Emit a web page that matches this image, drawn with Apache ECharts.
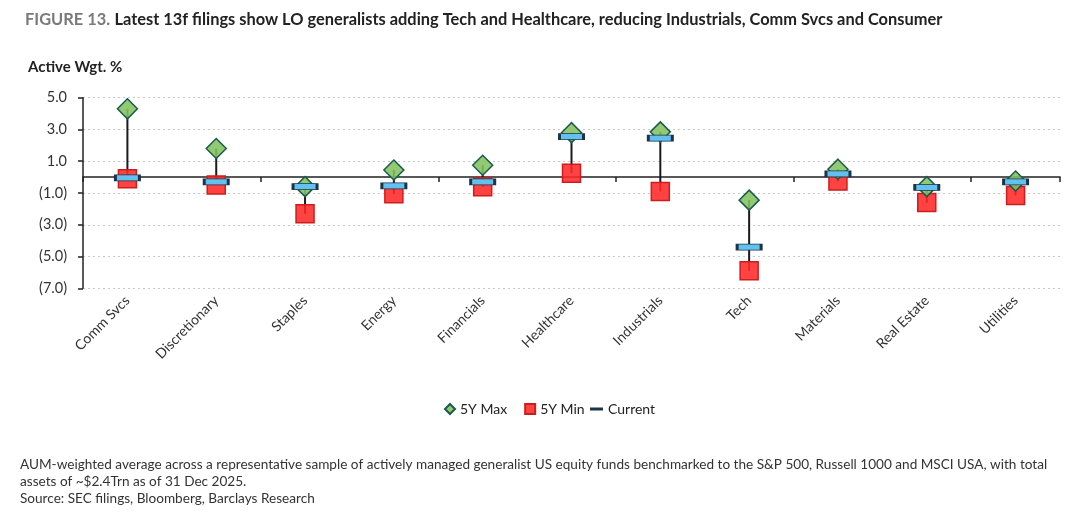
<!DOCTYPE html>
<html>
<head>
<meta charset="utf-8">
<script src="https://cdn.jsdelivr.net/npm/echarts@6/dist/echarts.min.js"></script>
<style>
  html, body { margin: 0; padding: 0; background: #fff; }
  #chart { width: 1080px; height: 520px; }
</style>
</head>
<body>
<div id="chart"></div>
<script>
const categories = ['Comm Svcs', 'Discretionary', 'Staples', 'Energy', 'Financials', 'Healthcare', 'Industrials', 'Tech', 'Materials', 'Real Estate', 'Utilities'];
const maxVals = [4.3, 1.8, -0.6, 0.45, 0.75, 2.8, 2.85, -1.45, 0.5, -0.6, -0.25];
const minVals = [-0.1, -0.5, -2.3, -1.05, -0.6, 0.25, -0.9, -5.9, -0.25, -1.6, -1.15];
const currentVals = [-0.05, -0.3, -0.6, -0.55, -0.3, 2.55, 2.45, -4.4, 0.2, -0.65, -0.3];
const yMin = -7, yMax = 5, yInterval = 2;

const FONT = 'Lato';
const chart = echarts.init(document.getElementById('chart'), null, { renderer: 'canvas' });

const fmt = v => v < 0 ? '(' + Math.abs(v).toFixed(1) + ')' : v.toFixed(1);

const option = {
  backgroundColor: '#fff',
  textStyle: { fontFamily: FONT },
  animation: false,
  title: {
    left: 20, top: 6,
    text: '{a|FIGURE 13.} {b|Latest 13f filings show LO generalists adding Tech and Healthcare, reducing Industrials, Comm Svcs and Consumer}',
    textStyle: {
      rich: {
        a: { fontFamily: FONT, fontWeight: 'bold', fontSize: 16.4, color: '#7a7a7a' },
        b: { fontFamily: FONT, fontWeight: 'bold', fontSize: 16.4, color: '#222' }
      }
    }
  },
  graphic: [
    { type: 'text', left: 28, top: 60, style: { text: 'Active Wgt. %', font: 'bold 15px ' + FONT, fill: '#222' } },
    { type: 'text', left: 20, top: 458, style: { text: 'AUM-weighted average across a representative sample of actively managed generalist US equity funds benchmarked to the S&P 500, Russell 1000 and MSCI USA, with total', font: '13.6px ' + FONT, fill: '#333' } },
    { type: 'text', left: 20, top: 475, style: { text: 'assets of ~$2.4Trn as of 31 Dec 2025.', font: '13.6px ' + FONT, fill: '#333' } },
    { type: 'text', left: 20, top: 492, style: { text: 'Source: SEC filings, Bloomberg, Barclays Research', font: '13.6px ' + FONT, fill: '#333' } }
  ],
  legend: [
    {
      left: 439, top: 397,
      itemWidth: 10, itemHeight: 10, itemGap: 17,
      textStyle: { fontFamily: FONT, fontSize: 14, color: '#222' },
      data: [
        { name: '5Y Max', icon: 'diamond' },
        { name: '5Y Min', icon: 'rect' }
      ]
    },
    {
      left: 585, top: 397,
      itemWidth: 13, itemHeight: 3,
      textStyle: { fontFamily: FONT, fontSize: 14, color: '#222' },
      data: [{ name: 'Current', icon: 'rect', itemStyle: { color: '#1d3347', borderWidth: 0 } }]
    }
  ],
  grid: { left: 83, right: 20, top: 97.7, bottom: 231.7 },
  xAxis: [
    {
      type: 'category',
      data: categories,
      position: 'bottom',
      axisLine: { show: false, onZero: false },
      axisTick: { show: false },
      axisLabel: { rotate: 45, margin: 10, fontFamily: FONT, fontSize: 14, color: '#333' },
      splitLine: { show: false }
    },
    {
      type: 'category',
      data: categories,
      position: 'bottom',
      axisLine: { show: true, onZero: true, lineStyle: { color: '#222', width: 1.5 } },
      axisTick: { show: true, length: 5, lineStyle: { color: '#222', width: 1.5 } },
      axisLabel: { show: false },
      splitLine: { show: false }
    }
  ],
  yAxis: {
    type: 'value',
    min: yMin, max: yMax, interval: yInterval,
    axisLine: { show: true, lineStyle: { color: '#222', width: 1.5 } },
    axisTick: { show: true, length: 5, lineStyle: { color: '#222', width: 1.5 } },
    axisLabel: { formatter: fmt, margin: 16, fontFamily: FONT, fontSize: 14.5, color: '#333' },
    splitLine: { show: true, lineStyle: { color: '#c8c8c8', type: [2, 3], width: 1 } }
  },
  series: [
    {
      type: 'custom',
      name: 'range',
      xAxisIndex: 0,
      z: 1,
      encode: { x: 0, y: [1, 2] },
      data: categories.map((c, i) => [i, maxVals[i], minVals[i]]),
      renderItem: function (params, api) {
        const p1 = api.coord([api.value(0), api.value(1)]);
        const p2 = api.coord([api.value(0), api.value(2)]);
        return {
          type: 'line',
          shape: { x1: p1[0], y1: p1[1], x2: p2[0], y2: p2[1] },
          style: { stroke: '#1a1a1a', lineWidth: 2 }
        };
      },
      silent: true
    },
    {
      type: 'scatter',
      name: '5Y Min',
      xAxisIndex: 0,
      z: 2,
      symbol: 'rect',
      symbolSize: 18,
      itemStyle: { color: 'rgba(255,40,40,0.88)', borderColor: '#cf1d1d', borderWidth: 1.5, opacity: 1 },
      data: minVals
    },
    {
      type: 'scatter',
      name: '5Y Max',
      xAxisIndex: 0,
      z: 3,
      symbol: 'diamond',
      symbolSize: 20,
      itemStyle: { color: 'rgba(130,195,95,0.88)', borderColor: '#1b5a4e', borderWidth: 1.5, opacity: 1 },
      data: maxVals
    },
    {
      type: 'scatter',
      name: 'Current',
      xAxisIndex: 0,
      z: 4,
      symbol: 'rect',
      symbolSize: [24, 6],
      itemStyle: { color: '#62c1ef', borderColor: '#1d3347', borderWidth: 1.5, opacity: 1 },
      data: currentVals
    }
  ]
};
chart.setOption(option);
</script>
</body>
</html>
